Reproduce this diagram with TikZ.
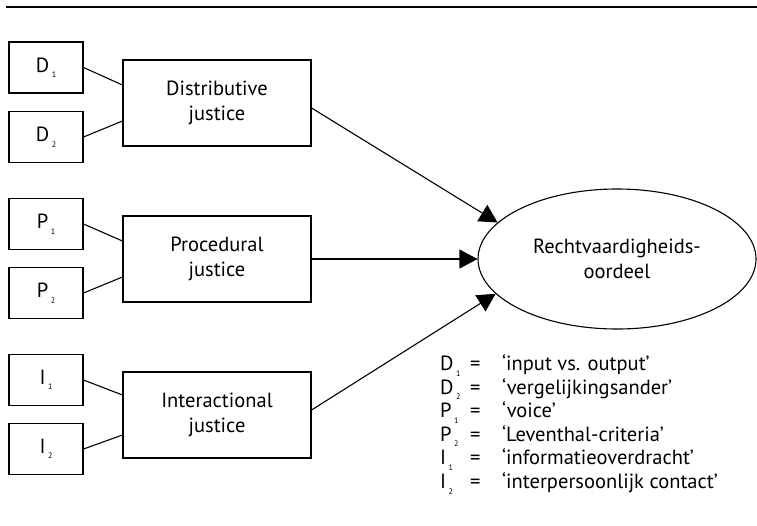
\documentclass[tikz,border=0pt]{standalone}
\usepackage{fontspec}
\setmainfont{PT Sans}
\usetikzlibrary{arrows.meta,shapes.geometric}
\newcommand{\subnum}[1]{\kern2.5pt\raisebox{-5.5pt}{\fontsize{8}{8}\selectfont #1}}
\begin{document}
\begin{tikzpicture}[x=1pt,y=-1pt,
  every node/.style={font=\fontsize{20.5}{24.5}\selectfont},
  smallbox/.style={draw, line width=1.1pt, minimum width=74pt, minimum height=51pt, inner sep=0pt},
  bigbox/.style={draw, line width=1.1pt, minimum width=188pt, minimum height=86pt, align=center, inner sep=0pt},
  link/.style={line width=1.1pt},
  arr/.style={line width=1.1pt, -{Triangle[length=18pt,width=19pt]}},
  legrow/.style={anchor=base west, inner sep=0pt}
]
\useasboundingbox (0,0) rectangle (757,525);
\draw[line width=1.5pt] (6,7) -- (757,7);

\node[smallbox] (d1) at (46,67.5) {D\subnum{1}};
\node[smallbox] (d2) at (46,137) {D\subnum{2}};
\node[smallbox] (p1) at (46,224) {P\subnum{1}};
\node[smallbox] (p2) at (46,293) {P\subnum{2}};
\node[smallbox] (i1) at (46,380) {I\subnum{1}};
\node[smallbox] (i2) at (46,449) {I\subnum{2}};

\node[bigbox] (dist) at (217,103) {Distributive\\justice};
\node[bigbox] (proc) at (217,259) {Procedural\\justice};
\node[bigbox] (inter) at (217,415) {Interactional\\justice};

\node[draw, ellipse, line width=1.1pt, minimum width=278pt, minimum height=140pt, inner sep=0pt, align=center] (judg) at (617,259) {Rechtvaardigheids-\\oordeel};

\draw[link] (d1.east) -- ([yshift=18pt]dist.west);
\draw[link] (d2.east) -- ([yshift=-18pt]dist.west);
\draw[link] (p1.east) -- ([yshift=18pt]proc.west);
\draw[link] (p2.east) -- ([yshift=-18pt]proc.west);
\draw[link] (i1.east) -- ([yshift=20pt]inter.west);
\draw[link] (i2.east) -- ([yshift=-20pt]inter.west);

\draw[arr] ([yshift=-5pt]dist.east) -- (judg.163.6);
\draw[arr] (proc.east) -- (judg.west);
\draw[arr] ([yshift=5pt]inter.east) -- (judg.196.4);

\node[legrow] (l1) at (440,370.5) {\makebox[30pt][l]{D\subnum{1}}\makebox[32pt][l]{=}‘input vs. output’};
\node[legrow] (l2) at (440,394.1) {\makebox[30pt][l]{D\subnum{2}}\makebox[32pt][l]{=}‘vergelijkingsander’};
\node[legrow] (l3) at (440,417.7) {\makebox[30pt][l]{P\subnum{1}}\makebox[32pt][l]{=}‘voice’};
\node[legrow] (l4) at (440,441.3) {\makebox[30pt][l]{P\subnum{2}}\makebox[32pt][l]{=}‘Leventhal-criteria’};
\node[legrow] (l5) at (440,464.9) {\makebox[30pt][l]{I\subnum{1}}\makebox[32pt][l]{=}‘informatieoverdracht’};
\node[legrow] (l6) at (440,488.5) {\makebox[30pt][l]{I\subnum{2}}\makebox[32pt][l]{=}‘interpersoonlijk contact’};
\end{tikzpicture}
\end{document}
